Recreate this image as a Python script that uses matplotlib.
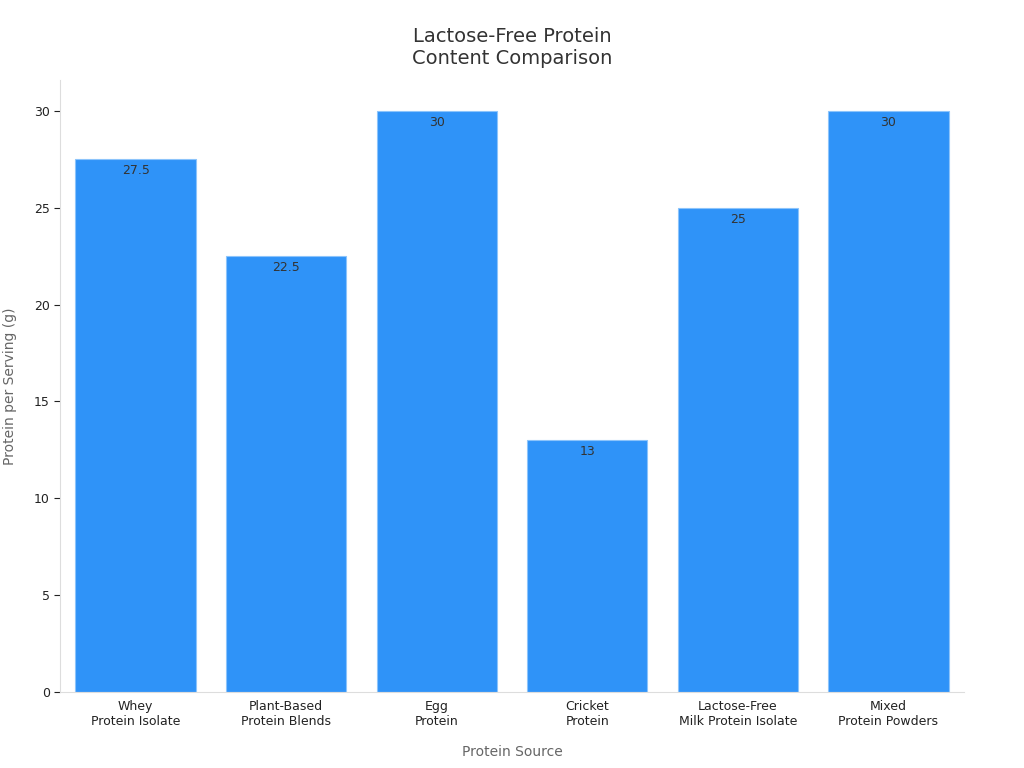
import matplotlib
matplotlib.use("Agg")
import matplotlib.pyplot as plt

categories = ["Whey\nProtein Isolate", "Plant-Based\nProtein Blends", "Egg\nProtein",
              "Cricket\nProtein", "Lactose-Free\nMilk Protein Isolate", "Mixed\nProtein Powders"]
values = [27.5, 22.5, 30, 13, 25, 30]
labels = ["27.5", "22.5", "30", "13", "25", "30"]

fig = plt.figure(figsize=(10.24, 7.68), dpi=100)
ax = fig.add_axes([0.059, 0.099, 0.882, 0.797])
x = range(len(values))
ax.bar(x, values, width=0.8, color="#2f93f8", edgecolor="#8cc4fb", linewidth=0.8)
for i, (v, t) in enumerate(zip(values, labels)):
    ax.text(i, v - 0.25, t, ha="center", va="top", fontsize=9, color="#333333")

ax.set_xlim(-0.5, len(values) - 0.5)
ax.set_ylim(0, 31.6)
ax.set_yticks([0, 5, 10, 15, 20, 25, 30])
ax.set_xticks(list(x))
ax.set_xticklabels(categories, fontsize=9, color="#222222")
ax.tick_params(axis="y", labelsize=9, colors="#222222", length=4)
ax.tick_params(axis="x", length=0, pad=6)
for s in ["top", "right"]:
    ax.spines[s].set_visible(False)
for s in ["left", "bottom"]:
    ax.spines[s].set_color("#dddddd")
ax.set_xlabel("Protein Source", fontsize=10, color="#666666", labelpad=12)
ax.set_ylabel("Protein per Serving (g)", fontsize=10, color="#666666", labelpad=12)
fig.suptitle("Lactose-Free Protein\nContent Comparison", fontsize=14, color="#333333", y=0.965)
fig.savefig("out.png", dpi=100)
